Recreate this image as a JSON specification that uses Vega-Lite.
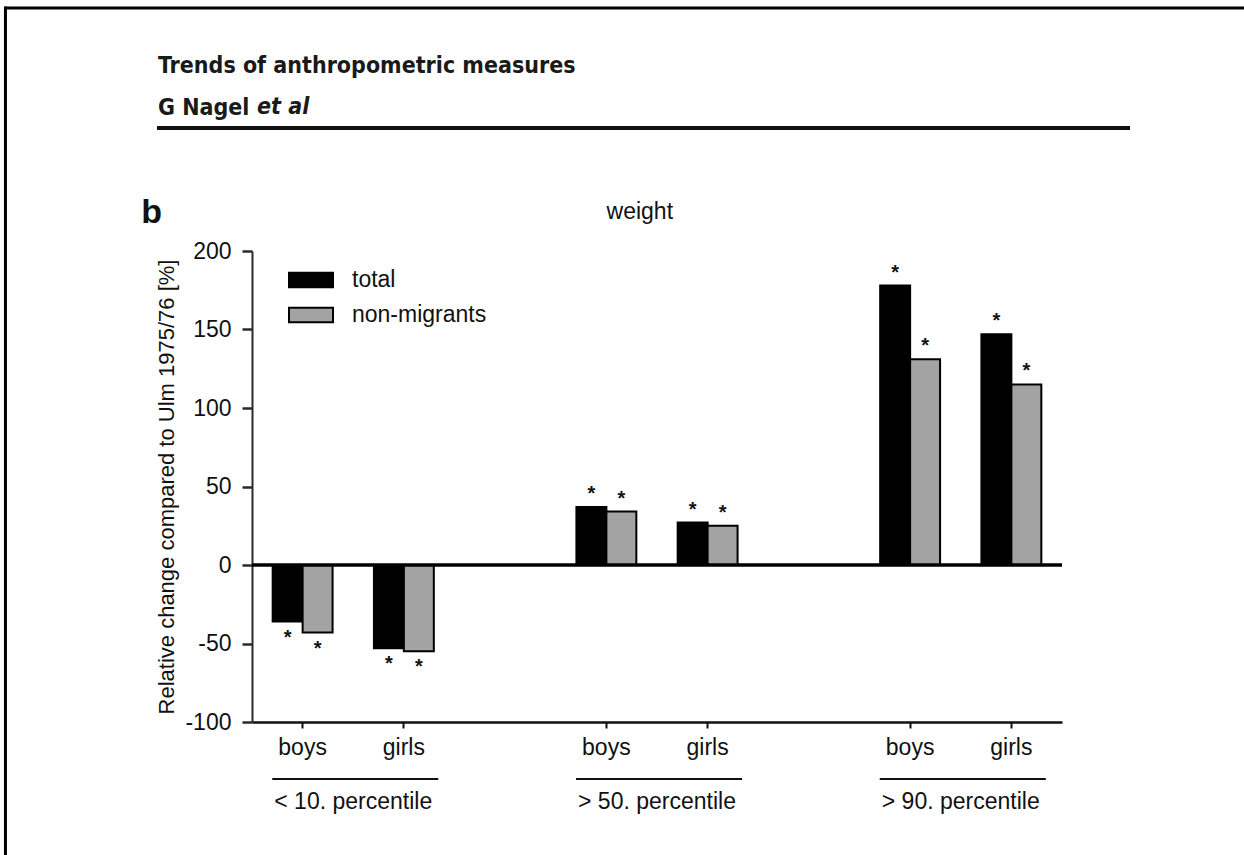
{
  "$schema": "https://vega.github.io/schema/vega-lite/v6.json",
  "width": 810,
  "height": 471,
  "autosize": {"type": "none"},
  "padding": {"left": 252, "top": 251, "right": 182, "bottom": 133},
  "background": "white",
  "title": {
    "text": "Trends of anthropometric measures",
    "subtitle": "G Nagel",
    "anchor": "start",
    "frame": "group",
    "dx": -94,
    "offset": -115,
    "font": "DejaVu Sans Condensed",
    "fontSize": 23,
    "fontWeight": "bold",
    "color": "#1a1a1a",
    "subtitleFont": "DejaVu Sans Condensed",
    "subtitleFontSize": 23,
    "subtitleFontWeight": "bold",
    "subtitleColor": "#1a1a1a",
    "subtitlePadding": 19
  },
  "config": {
    "font": "Liberation Sans",
    "view": {"stroke": null},
    "axisX": {
      "domainColor": "#111111", "domainWidth": 2.5,
      "tickColor": "#111111", "tickWidth": 2, "tickSize": 6,
      "labelFont": "Liberation Sans", "labelFontSize": 23, "labelColor": "#111111", "labelPadding": 8,
      "grid": false
    },
    "axisY": {
      "domainColor": "#2a2a2a", "domainWidth": 2,
      "tickColor": "#2a2a2a", "tickWidth": 2.5, "tickSize": 10,
      "labelFont": "Liberation Sans", "labelFontSize": 23, "labelColor": "#111111", "labelPadding": 11,
      "titleFont": "Liberation Sans", "titleFontSize": 22, "titleFontWeight": "normal", "titleColor": "#111111", "titlePadding": 6,
      "grid": false
    },
    "legend": {
      "labelFont": "Liberation Sans", "labelFontSize": 23, "labelColor": "#111111",
      "padding": 0
    }
  },
  "datasets": {
    "bars": [
      {"cat": "<10 boys", "series": "total", "value": -36},
      {"cat": "<10 boys", "series": "non-migrants", "value": -43},
      {"cat": "<10 girls", "series": "total", "value": -53},
      {"cat": "<10 girls", "series": "non-migrants", "value": -55},
      {"cat": ">50 boys", "series": "total", "value": 37},
      {"cat": ">50 boys", "series": "non-migrants", "value": 34},
      {"cat": ">50 girls", "series": "total", "value": 27},
      {"cat": ">50 girls", "series": "non-migrants", "value": 25},
      {"cat": ">90 boys", "series": "total", "value": 178},
      {"cat": ">90 boys", "series": "non-migrants", "value": 131},
      {"cat": ">90 girls", "series": "total", "value": 147},
      {"cat": ">90 girls", "series": "non-migrants", "value": 115}
    ],
    "groups": [
      {"grp": "< 10. percentile", "a": "<10 boys", "b": "<10 girls"},
      {"grp": "> 50. percentile", "a": ">50 boys", "b": ">50 girls"},
      {"grp": "> 90. percentile", "a": ">90 boys", "b": ">90 girls"}
    ],
    "one": [{}]
  },
  "layer": [
    {
      "data": {"name": "bars"},
      "mark": {"type": "bar", "stroke": "#000000", "strokeWidth": 2},
      "encoding": {
        "x": {
          "field": "cat", "type": "nominal",
          "scale": {"domain": ["<10 boys", "<10 girls", "gapA", ">50 boys", ">50 girls", "gapB", ">90 boys", ">90 girls"], "paddingInner": 0, "paddingOuter": 0},
          "axis": {
            "title": null,
            "values": ["<10 boys", "<10 girls", ">50 boys", ">50 girls", ">90 boys", ">90 girls"],
            "labelExpr": "indexof(datum.value, 'boys') >= 0 ? 'boys' : 'girls'",
            "labelAngle": 0
          }
        },
        "xOffset": {
          "field": "series", "type": "nominal",
          "scale": {"domain": ["total", "non-migrants"], "paddingInner": 0, "paddingOuter": 0.69}
        },
        "y": {
          "field": "value", "type": "quantitative",
          "scale": {"domain": [-100, 200], "nice": false, "zero": false},
          "axis": {
            "title": "Relative change compared to Ulm 1975/76 [%]",
            "values": [-100, -50, 0, 50, 100, 150, 200],
            "labelExpr": "'' + datum.value"
          }
        },
        "color": {
          "field": "series", "type": "nominal",
          "scale": {"domain": ["total", "non-migrants"], "range": ["#000000", "#a3a3a3"]},
          "legend": {
            "title": null,
            "orient": "none",
            "legendX": 36,
            "legendY": 6,
            "symbolType": "M-1,-0.33H1V0.33H-1Z",
            "symbolSize": 1936,
            "symbolStrokeColor": "#000000",
            "symbolStrokeWidth": 2,
            "symbolOpacity": 1,
            "labelOffset": 18,
            "rowPadding": -10
          }
        }
      }
    },
    {
      "data": {"name": "one"},
      "mark": {"type": "rule", "color": "#000000", "strokeWidth": 3.5},
      "encoding": {"y": {"datum": 0}}
    },
    {
      "data": {"name": "bars"},
      "transform": [{"filter": "datum.value > 0"}],
      "mark": {"type": "text", "text": "*", "fontSize": 20, "fontWeight": "bold", "baseline": "middle", "dy": -13, "color": "#111111"},
      "encoding": {
        "x": {"field": "cat", "type": "nominal"},
        "xOffset": {"field": "series", "type": "nominal"},
        "y": {"field": "value", "type": "quantitative"}
      }
    },
    {
      "data": {"name": "bars"},
      "transform": [{"filter": "datum.value < 0"}],
      "mark": {"type": "text", "text": "*", "fontSize": 20, "fontWeight": "bold", "baseline": "middle", "dy": 16, "color": "#111111"},
      "encoding": {
        "x": {"field": "cat", "type": "nominal"},
        "xOffset": {"field": "series", "type": "nominal"},
        "y": {"field": "value", "type": "quantitative"}
      }
    },
    {
      "data": {"name": "groups"},
      "mark": {"type": "rule", "color": "#111111", "strokeWidth": 2},
      "encoding": {
        "x": {"field": "a", "type": "nominal", "bandPosition": 0.2},
        "x2": {"field": "b", "bandPosition": 0.84},
        "y": {"datum": -136.3}
      }
    },
    {
      "data": {"name": "groups"},
      "mark": {"type": "text", "fontSize": 23, "baseline": "middle", "align": "center", "color": "#111111"},
      "encoding": {
        "x": {"field": "a", "type": "nominal", "bandPosition": 1},
        "y": {"datum": -151},
        "text": {"field": "grp"}
      }
    },
    {
      "data": {"name": "one"},
      "mark": {"type": "text", "text": "weight", "fontSize": 23, "baseline": "middle", "align": "center", "color": "#111111"},
      "encoding": {
        "x": {"datum": ">50 boys", "bandPosition": 0.83},
        "y": {"datum": 224.8}
      }
    },
    {
      "data": {"name": "one"},
      "mark": {"type": "text", "text": "b", "fontSize": 34, "fontWeight": "bold", "baseline": "middle", "align": "center", "color": "#111111"},
      "encoding": {
        "x": {"datum": "<10 boys", "bandPosition": -0.99},
        "y": {"datum": 224.2}
      }
    },
    {
      "data": {"name": "one"},
      "mark": {"type": "text", "text": "et al", "font": "DejaVu Sans Condensed", "fontSize": 23, "fontWeight": "bold", "fontStyle": "italic", "baseline": "alphabetic", "align": "left", "color": "#1a1a1a"},
      "encoding": {
        "x": {"datum": "<10 boys", "bandPosition": 0.05},
        "y": {"datum": 287.0}
      }
    },
    {
      "data": {"name": "one"},
      "mark": {"type": "rule", "color": "#111111", "strokeWidth": 4},
      "encoding": {
        "x": {"datum": "<10 boys", "bandPosition": -0.938},
        "x2": {"datum": ">90 girls", "bandPosition": 1.672},
        "y": {"datum": 278.3}
      }
    },
    {
      "data": {"name": "one"},
      "mark": {"type": "rule", "color": "#000000", "strokeWidth": 3},
      "encoding": {
        "x": {"datum": "<10 boys", "bandPosition": -2.44},
        "x2": {"datum": ">90 girls", "bandPosition": 2.8},
        "y": {"datum": 354.8}
      }
    },
    {
      "data": {"name": "one"},
      "mark": {"type": "rule", "color": "#000000", "strokeWidth": 3},
      "encoding": {
        "x": {"datum": "<10 boys", "bandPosition": -2.435},
        "y": {"datum": 355.7},
        "y2": {"datum": -200}
      }
    }
  ]
}
